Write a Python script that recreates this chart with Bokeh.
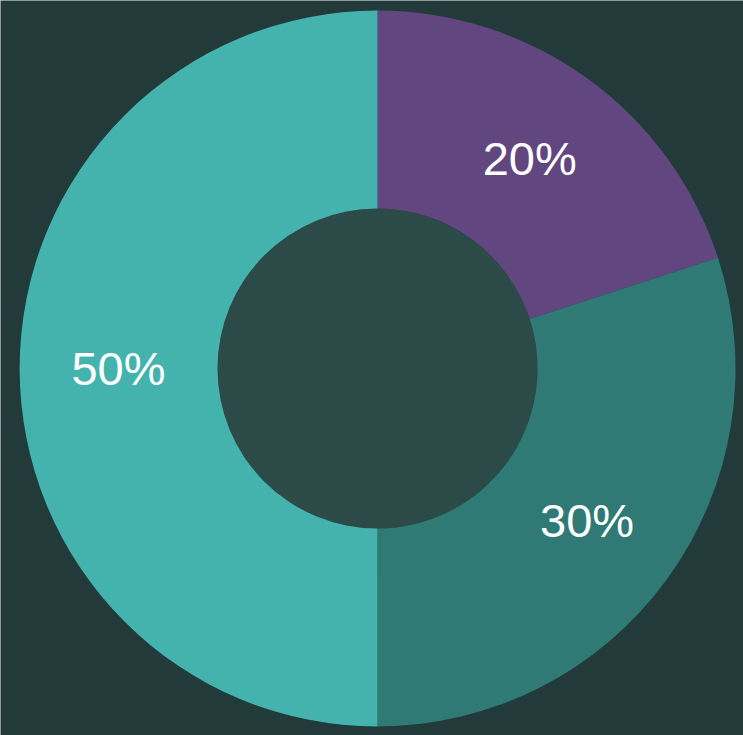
import math
from bokeh.plotting import figure
from bokeh.models import ColumnDataSource, Range1d
from bokeh.core.properties import value
from bokeh.embed import file_html
from bokeh.resources import INLINE

labels = ["20%", "30%", "50%"]
shares = [20, 30, 50]
colors = ["#62467f", "#2f7a74", "#45b3ad"]

total = sum(shares)
start, end, mid = [], [], []
acc = 0.0
for s in shares:
    a0 = math.pi / 2 - 2 * math.pi * acc / total
    acc += s
    a1 = math.pi / 2 - 2 * math.pi * acc / total
    start.append(a1)
    end.append(a0)
    mid.append((a0 + a1) / 2)

R_OUT, R_IN = 358, 160
R_LAB = (R_OUT + R_IN) / 2
lx = [R_LAB * math.cos(m) for m in mid]
ly = [R_LAB * math.sin(m) for m in mid]

src = ColumnDataSource(dict(start=start, end=end, color=colors, label=labels, lx=lx, ly=ly))

W, H = 743, 735
CX, CY = 377, 368
p = figure(width=W, height=H, output_backend="svg", toolbar_location=None,
           x_range=Range1d(-CX, W - CX), y_range=Range1d(-(H - CY), CY),
           min_border=0)
p.axis.visible = False
p.grid.visible = False
p.outline_line_color = None
p.background_fill_color = "#223b3a"
p.border_fill_color = "#223b3a"

p.circle(x=[0], y=[0], radius=R_IN, fill_color="#2b4a48", line_color=None)
p.annular_wedge(x=0, y=0, inner_radius=R_IN, outer_radius=R_OUT,
                start_angle="start", end_angle="end", fill_color="color",
                line_color=None, source=src)
p.text(x="lx", y="ly", text="label", source=src, text_color="white",
       text_font=value("Liberation Sans"), text_font_size="47px",
       text_align="center", text_baseline="middle")

open("out.html", "w").write(file_html(p, INLINE))
